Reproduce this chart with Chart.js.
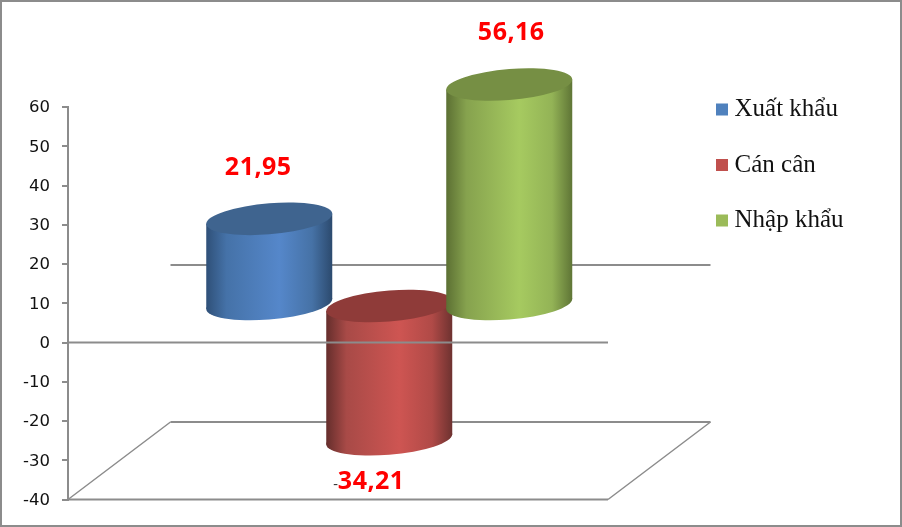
<!DOCTYPE html>
<html>
<head>
<meta charset="utf-8">
<style>
  html, body { margin:0; padding:0; background:#fff; }
  #wrap { width:902px; height:527px; position:relative; overflow:hidden; }
</style>
<script src="https://cdn.jsdelivr.net/npm/chart.js@4.4.0/dist/chart.umd.min.js"></script>
</head>
<body>
<div id="wrap"><canvas id="chart" width="902" height="527"></canvas></div>
<script>
// Data
const categories = ["2018"];
const seriesNames = ["Xuất khẩu", "Cán cân", "Nhập khẩu"];
const xuatKhau = [21.95];
const canCan = [-34.21];
const nhapKhau = [56.16];
const baseColors = ["#4F81BD", "#C0504D", "#9BBB59"];

// side shading left to right, plus the flat end cap
const shades = [
  { ramp:["#2F5078","#4572A8","#5587CA","#4672A6","#2C4A6E"], cap:"#3F648F" },
  { ramp:["#652E2C","#A84A47","#CE5552","#B04A47","#6E3230"], cap:"#8F3B39" },
  { ramp:["#5C7033","#86A24E","#A6CA60","#93B356","#5F7536"], cap:"#768F44" }
];
const rampStops = [0, 0.16, 0.58, 0.84, 1];

// depth of the 3D floor in pixels, bars stand half way back
const DEPTH_X = 102.5, DEPTH_Y = -77.5;
const BAR_LIFT = -37.5;
const GREY = "#8C8C8C";
// hand placed label offsets from the bar end, like in the original
const labelShift = [ {x:-11, y:-51}, {x:-18, y:43}, {x:2, y:-52} ];

function fmt(v) { return Math.abs(v).toFixed(2).replace(".", ","); }

function capPath(ctx, cx, cy, rx) {
  ctx.save();
  ctx.transform(1, -5 / 63, 0, 1, cx, cy);
  ctx.moveTo(rx, 0);
  ctx.ellipse(0, 0, rx, 15.5, 0, 0, Math.PI * 2);
  ctx.restore();
}

function drawCylinder(ctx, el, shade) {
  const cx = el.x + DEPTH_X / 2;
  const rx = el.width / 2;
  const top = Math.min(el.y, el.base) + BAR_LIFT;
  const bottom = Math.max(el.y, el.base) + BAR_LIFT;
  const tilt = 5 / 63 * rx;

  const g = ctx.createLinearGradient(cx - rx, 0, cx + rx, 0);
  rampStops.forEach((s, i) => g.addColorStop(s, shade.ramp[i]));

  ctx.beginPath();
  capPath(ctx, cx, bottom, rx);
  ctx.fillStyle = g;
  ctx.fill();

  ctx.beginPath();
  ctx.moveTo(cx - rx, top + tilt);
  ctx.lineTo(cx + rx, top - tilt);
  ctx.lineTo(cx + rx, bottom - tilt);
  ctx.lineTo(cx - rx, bottom + tilt);
  ctx.closePath();
  ctx.fill();

  ctx.beginPath();
  capPath(ctx, cx, top, rx);
  ctx.fillStyle = shade.cap;
  ctx.fill();
}

const cylinders = {
  id: "cylinders",
  afterLayout(chart) {
    // legend sits next to the back corner of the floor
    const lg = chart.legend;
    lg.left = 691.5;
    lg.right = 902;
    lg.top = 66.5;
    lg.bottom = 527;
  },
  beforeDatasetDraw() { return false; },
  beforeDatasetsDraw(chart) {
    const { ctx, scales: { y }, chartArea: a } = chart;
    const y0 = y.getPixelForValue(0), yMin = y.getPixelForValue(-40);
    ctx.save();
    ctx.strokeStyle = GREY;
    ctx.lineWidth = 2;
    ctx.beginPath();
    ctx.moveTo(a.left + DEPTH_X, y0 + DEPTH_Y); ctx.lineTo(a.right + DEPTH_X, y0 + DEPTH_Y);
    ctx.moveTo(a.left + DEPTH_X, yMin + DEPTH_Y); ctx.lineTo(a.right + DEPTH_X, yMin + DEPTH_Y);
    ctx.moveTo(a.left, yMin); ctx.lineTo(a.right, yMin);
    ctx.stroke();
    ctx.lineWidth = 1.5;
    ctx.beginPath();
    ctx.moveTo(a.left, yMin); ctx.lineTo(a.left + DEPTH_X, yMin + DEPTH_Y);
    ctx.moveTo(a.right, yMin); ctx.lineTo(a.right + DEPTH_X, yMin + DEPTH_Y);
    ctx.stroke();
    ctx.restore();
  },
  afterDatasetsDraw(chart) {
    const { ctx, scales: { y }, chartArea: a } = chart;
    ctx.save();
    chart.data.datasets.forEach((ds, i) => {
      drawCylinder(ctx, chart.getDatasetMeta(i).data[0], shades[i]);
    });
    // front zero line runs over the bars
    const y0 = y.getPixelForValue(0);
    ctx.strokeStyle = GREY;
    ctx.lineWidth = 2;
    ctx.beginPath();
    ctx.moveTo(a.left, y0); ctx.lineTo(a.right, y0);
    ctx.stroke();
    // data labels
    ctx.textBaseline = "middle";
    chart.data.datasets.forEach((ds, i) => {
      const el = chart.getDatasetMeta(i).data[0];
      const v = ds.data[0];
      const px = el.x + DEPTH_X / 2 + labelShift[i].x;
      const py = el.y + BAR_LIFT + labelShift[i].y;
      ctx.font = "bold 25px 'Open Sans'";
      ctx.fillStyle = "#FF0000";
      ctx.textAlign = "center";
      ctx.letterSpacing = "0.5px";
      ctx.fillText(fmt(v), px, py);
      if (v < 0) {
        const w = ctx.measureText(fmt(v)).width;
        ctx.letterSpacing = "0px";
        ctx.font = "14px 'Liberation Serif'";
        ctx.fillStyle = "#333333";
        ctx.textAlign = "right";
        ctx.fillText("-", px - w / 2, py + 2);
      }
    });
    ctx.restore();
    // outer frame
    ctx.save();
    ctx.strokeStyle = GREY;
    ctx.lineWidth = 2;
    ctx.strokeRect(1, 1, chart.width - 2, chart.height - 2);
    ctx.restore();
  }
};

new Chart(document.getElementById("chart"), {
  type: "bar",
  data: {
    labels: categories,
    datasets: [
      { label: seriesNames[0], data: xuatKhau, backgroundColor: baseColors[0] },
      { label: seriesNames[1], data: canCan, backgroundColor: baseColors[1] },
      { label: seriesNames[2], data: nhapKhau, backgroundColor: baseColors[2] }
    ]
  },
  options: {
    responsive: false,
    animation: false,
    layout: { padding: { top: 107, bottom: 27.5, left: 0, right: 132 } },
    categoryPercentage: 2 / 3,
    barPercentage: 1.05,
    plugins: {
      tooltip: { enabled: false },
      legend: {
        position: "right",
        align: "start",
        labels: {
          usePointStyle: true,
          pointStyle: "rect",
          boxWidth: 0.01,
          boxHeight: 12,
          padding: 30.5,
          color: "#111",
          font: { family: "'Liberation Serif'", size: 25 }
        }
      }
    },
    scales: {
      x: { display: false, grid: { display: false } },
      y: {
        min: -40,
        max: 60,
        ticks: {
          stepSize: 10,
          padding: 12,
          labelOffset: 1,
          color: "#111",
          font: { family: "'DejaVu Sans'", size: 16.5 }
        },
        afterFit(scale) { scale.width = 68; },
        grid: { drawOnChartArea: false, tickLength: 6, color: GREY, lineWidth: 2 },
        border: { color: GREY, width: 2 }
      }
    }
  },
  plugins: [cylinders]
});
</script>
</body>
</html>
